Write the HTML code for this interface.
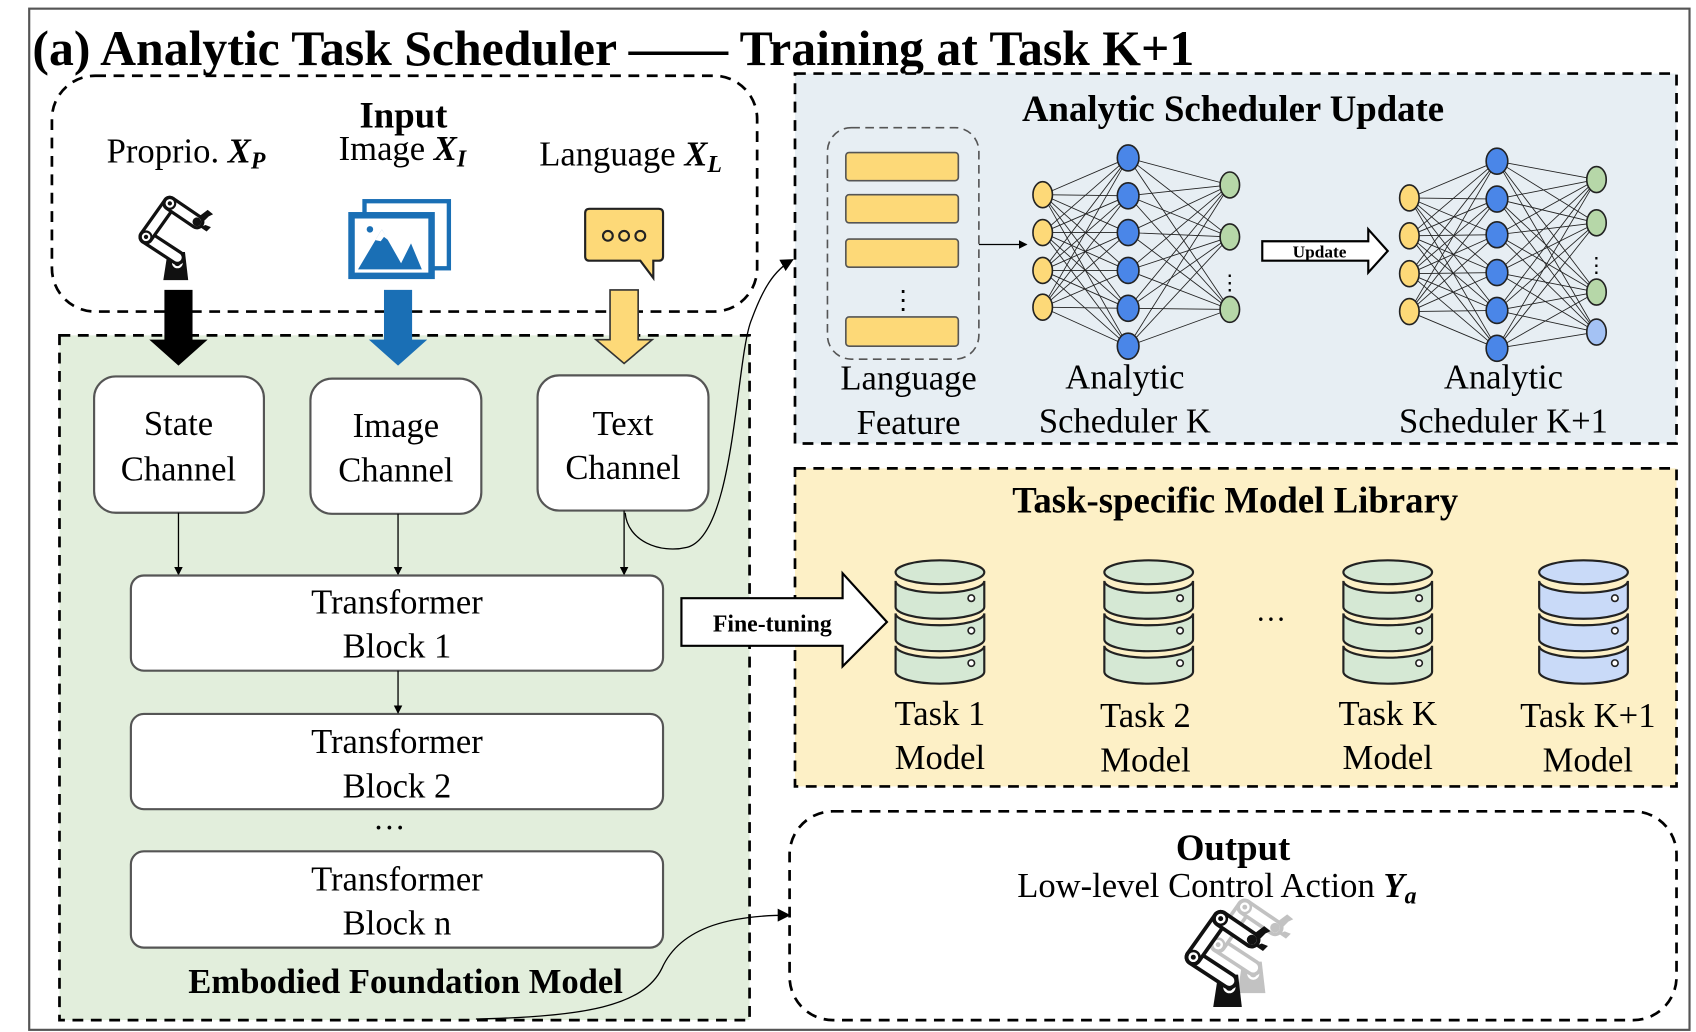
<!DOCTYPE html>
<html><head><meta charset="utf-8"><style>
html,body{margin:0;padding:0;background:#fff;width:1696px;height:1032px;overflow:hidden;}
svg{display:block;}
text{font-family:"Liberation Serif",serif;fill:#000;}
</style></head><body>
<svg width="1696" height="1032" viewBox="0 0 1568 954" preserveAspectRatio="none" xmlns="http://www.w3.org/2000/svg">
<defs>
<marker id="ah" markerWidth="8" markerHeight="8" refX="7" refY="4" orient="auto" markerUnits="userSpaceOnUse"><path d="M0,0 L8,4 L0,8 Z" fill="#000"/></marker>
<marker id="ah2" markerWidth="12" markerHeight="12" refX="11" refY="6" orient="auto" markerUnits="userSpaceOnUse"><path d="M0,0 L12,6 L0,12 Z" fill="#000"/></marker>
<g id="robot">
  <path d="M151,259 L155,233 L171,233 L174,259 Z" fill="#111"/>
  <circle cx="164" cy="243" r="5" fill="#fff"/><circle cx="164" cy="243" r="3" fill="#111"/>
  <line x1="164" y1="238" x2="135" y2="219" stroke="#111" stroke-width="14" stroke-linecap="round"/>
  <line x1="164" y1="238" x2="135" y2="219" stroke="#fff" stroke-width="8" stroke-linecap="round"/>
  <line x1="135" y1="219" x2="157" y2="188" stroke="#111" stroke-width="14" stroke-linecap="round"/>
  <line x1="135" y1="219" x2="157" y2="188" stroke="#fff" stroke-width="8" stroke-linecap="round"/>
  <line x1="157" y1="188" x2="182" y2="205" stroke="#111" stroke-width="14" stroke-linecap="round"/>
  <line x1="157" y1="188" x2="182" y2="205" stroke="#fff" stroke-width="8" stroke-linecap="round"/>
  <circle cx="135" cy="219" r="5" fill="none" stroke="#111" stroke-width="2"/><circle cx="135" cy="219" r="2" fill="#111"/>
  <circle cx="157" cy="188" r="5" fill="none" stroke="#111" stroke-width="2"/><circle cx="157" cy="188" r="2" fill="#111"/>
  <circle cx="182" cy="205" r="4" fill="#111"/>
  <path d="M184,200 L192,194 L197,198 L193,200 L189,204 Z M185,210 L191,214 L195,210 L190,208 Z" fill="#111"/>
</g>
</defs>

<rect x="0" y="0" width="1568" height="954" fill="#fff"/>
<rect x="27" y="8" width="1535" height="944" fill="none" stroke="#555" stroke-width="2"/>

<text x="30" y="60" font-size="46" font-weight="bold">(a) Analytic Task Scheduler —— Training at Task K+1</text>

<rect x="55" y="310" width="638" height="633" fill="#e2eedc" stroke="#000" stroke-width="2.5" stroke-dasharray="10,7"/>
<rect x="735" y="68" width="815" height="342" fill="#e7eef3" stroke="#000" stroke-width="2.5" stroke-dasharray="10,7"/>
<rect x="735" y="433" width="815" height="294" fill="#fdf0c6" stroke="#000" stroke-width="2.5" stroke-dasharray="10,7"/>
<rect x="48" y="70" width="652" height="218" rx="40" fill="none" stroke="#000" stroke-width="2.5" stroke-dasharray="10,7"/>
<rect x="730" y="750" width="820" height="193" rx="40" fill="#fff" stroke="#000" stroke-width="2.5" stroke-dasharray="10,7"/>

<text x="373" y="118" font-size="34" font-weight="bold" text-anchor="middle">Input</text>
<text x="172" y="150" font-size="32" text-anchor="middle">Proprio. <tspan font-weight="bold" font-style="italic">X<tspan font-size="22" dy="6">P</tspan></tspan></text>
<text x="372" y="148" font-size="32" text-anchor="middle">Image <tspan font-weight="bold" font-style="italic">X<tspan font-size="22" dy="6">I</tspan></tspan></text>
<text x="583" y="153" font-size="32" text-anchor="middle">Language <tspan font-weight="bold" font-style="italic">X<tspan font-size="22" dy="6">L</tspan></tspan></text>

<use href="#robot"/>

<rect x="337" y="186" width="78" height="62" fill="#fff" stroke="#1a6fb5" stroke-width="4"/>
<rect x="322" y="196" width="80" height="62" fill="#1a6fb5"/>
<rect x="328" y="202" width="68" height="50" fill="#fff"/>
<path d="M331,249 L353,212 L374,249 Z M368,249 L380,225 L390,249 Z" fill="#1a6fb5"/>
<path d="M347,222 L353,212 L359,222 L355,219 L352,223 Z" fill="#fff"/>
<circle cx="342" cy="212" r="3" fill="#1a6fb5"/>

<path d="M545,193 L609,193 Q613,193 613,197 L613,237 Q613,241 609,241 L604,241 L604,257 L592,241 L545,241 Q541,241 541,237 L541,197 Q541,193 545,193 Z" fill="#fdd978" stroke="#222" stroke-width="2"/>
<circle cx="562" cy="218" r="4.5" fill="none" stroke="#222" stroke-width="2"/>
<circle cx="577" cy="218" r="4.5" fill="none" stroke="#222" stroke-width="2"/>
<circle cx="592" cy="218" r="4.5" fill="none" stroke="#222" stroke-width="2"/>

<path d="M152,268 L178,268 L178,314 L192,314 L165,338 L138,314 L152,314 Z" fill="#000"/>
<path d="M355,268 L381,268 L381,314 L395,314 L368,338 L341,314 L355,314 Z" fill="#1a6fb5"/>
<path d="M564,268 L590,268 L590,314 L603,314 L577,336 L551,314 L564,314 Z" fill="#fdd978" stroke="#333" stroke-width="1.5"/>

<rect x="87" y="348" width="157" height="126" rx="20" fill="#fff" stroke="#555" stroke-width="2"/>
<rect x="287" y="350" width="158" height="125" rx="20" fill="#fff" stroke="#555" stroke-width="2"/>
<rect x="497" y="347" width="158" height="125" rx="20" fill="#fff" stroke="#555" stroke-width="2"/>
<text x="165" y="402" font-size="32" text-anchor="middle">State</text>
<text x="165" y="444" font-size="32" text-anchor="middle">Channel</text>
<text x="366" y="404" font-size="32" text-anchor="middle">Image</text>
<text x="366" y="445" font-size="32" text-anchor="middle">Channel</text>
<text x="576" y="402" font-size="32" text-anchor="middle">Text</text>
<text x="576" y="443" font-size="32" text-anchor="middle">Channel</text>

<line x1="165" y1="474" x2="165" y2="531" stroke="#000" stroke-width="1.2" marker-end="url(#ah)"/>
<line x1="368" y1="475" x2="368" y2="531" stroke="#000" stroke-width="1.2" marker-end="url(#ah)"/>
<line x1="577" y1="472" x2="577" y2="531" stroke="#000" stroke-width="1.2" marker-end="url(#ah)"/>

<rect x="121" y="532" width="492" height="88" rx="12" fill="#fff" stroke="#555" stroke-width="2"/>
<rect x="121" y="660" width="492" height="88" rx="12" fill="#fff" stroke="#555" stroke-width="2"/>
<rect x="121" y="787" width="492" height="89" rx="12" fill="#fff" stroke="#555" stroke-width="2"/>
<text x="367" y="567" font-size="32" text-anchor="middle">Transformer</text>
<text x="367" y="608" font-size="32" text-anchor="middle">Block 1</text>
<text x="367" y="696" font-size="32" text-anchor="middle">Transformer</text>
<text x="367" y="737" font-size="32" text-anchor="middle">Block 2</text>
<text x="367" y="823" font-size="32" text-anchor="middle">Transformer</text>
<text x="367" y="864" font-size="32" text-anchor="middle">Block n</text>
<line x1="368" y1="620" x2="368" y2="659" stroke="#000" stroke-width="1.2" marker-end="url(#ah)"/>
<text x="360" y="775" font-size="30" text-anchor="middle">···</text>
<text x="375" y="918" font-size="32" font-weight="bold" text-anchor="middle">Embodied Foundation Model</text>

<path d="M578,474 C580,500 610,512 635,506 C680,495 680,330 695,295 C705,268 715,250 733,240" fill="none" stroke="#000" stroke-width="1.2" marker-end="url(#ah2)"/>
<path d="M440,942 C540,940 595,930 612,895 C630,855 680,846 730,846" fill="none" stroke="#000" stroke-width="1.2" marker-end="url(#ah2)"/>

<text x="1140" y="112" font-size="34" font-weight="bold" text-anchor="middle">Analytic Scheduler Update</text>
<rect x="765" y="118" width="140" height="214" rx="22" fill="none" stroke="#555" stroke-width="1.5" stroke-dasharray="8,5"/>
<rect x="782" y="141" width="104" height="26" rx="3" fill="#fdd978" stroke="#555" stroke-width="1.5"/>
<rect x="782" y="180" width="104" height="26" rx="3" fill="#fdd978" stroke="#555" stroke-width="1.5"/>
<rect x="782" y="221" width="104" height="26" rx="3" fill="#fdd978" stroke="#555" stroke-width="1.5"/>
<rect x="782" y="293" width="104" height="27" rx="3" fill="#fdd978" stroke="#555" stroke-width="1.5"/>
<text x="835" y="285" font-size="24" text-anchor="middle">⋮</text>
<line x1="905" y1="226" x2="949" y2="226" stroke="#000" stroke-width="1.2" marker-end="url(#ah)"/>
<g id="nets"></g>
<path d="M1167,223 L1265,223 L1265,212 L1283,232 L1265,252 L1265,241 L1167,241 Z" fill="#fff" stroke="#000" stroke-width="2"/>
<text x="1220" y="238" font-size="16" font-weight="bold" text-anchor="middle">Update</text>
<text x="1137" y="268" font-size="20" text-anchor="middle">⋮</text>
<text x="1476" y="252" font-size="20" text-anchor="middle">⋮</text>
<text x="840" y="360" font-size="32" text-anchor="middle">Language</text>
<text x="840" y="401" font-size="32" text-anchor="middle">Feature</text>
<text x="1040" y="359" font-size="32" text-anchor="middle">Analytic</text>
<text x="1040" y="400" font-size="32" text-anchor="middle">Scheduler K</text>
<text x="1390" y="359" font-size="32" text-anchor="middle">Analytic</text>
<text x="1390" y="400" font-size="32" text-anchor="middle">Scheduler K+1</text>

<text x="1142" y="474" font-size="34" font-weight="bold" text-anchor="middle">Task-specific Model Library</text>
<path d="M630,553 L779,553 L779,530 L820,575 L779,616 L779,597 L630,597 Z" fill="#fff" stroke="#000" stroke-width="2"/>
<text x="714" y="584" font-size="22" font-weight="bold" text-anchor="middle">Fine-tuning</text>
<g id="dbs"></g>
<text x="1175" y="582" font-size="28" text-anchor="middle">···</text>
<text x="869" y="670" font-size="32" text-anchor="middle">Task 1</text>
<text x="869" y="711" font-size="32" text-anchor="middle">Model</text>
<text x="1059" y="672" font-size="32" text-anchor="middle">Task 2</text>
<text x="1059" y="713" font-size="32" text-anchor="middle">Model</text>
<text x="1283" y="670" font-size="32" text-anchor="middle">Task K</text>
<text x="1283" y="711" font-size="32" text-anchor="middle">Model</text>
<text x="1468" y="672" font-size="32" text-anchor="middle">Task K+1</text>
<text x="1468" y="713" font-size="32" text-anchor="middle">Model</text>

<text x="1140" y="795" font-size="34" font-weight="bold" text-anchor="middle">Output</text>
<text x="1125" y="829" font-size="32" text-anchor="middle">Low-level Control Action <tspan font-weight="bold" font-style="italic">Y<tspan font-size="22" dy="6">a</tspan></tspan></text>
<use href="#robot" transform="translate(975,628) scale(1.12)" opacity="0.25"/>
<use href="#robot" transform="translate(948,633) scale(1.15)"/>
</svg>
<script>
(function(){
var NS="http://www.w3.org/2000/svg";
function el(p,t,a){var e=document.createElementNS(NS,t);for(var k in a)e.setAttribute(k,a[k]);p.appendChild(e);return e;}
var nets=document.getElementById('nets');
function net(ix,iy,hx,hy,ox,oy,ocol){
  iy.forEach(function(a){hy.forEach(function(b){el(nets,'line',{x1:ix,y1:a,x2:hx,y2:b,stroke:'#222','stroke-width':0.8});});});
  hy.forEach(function(a){oy.forEach(function(b){el(nets,'line',{x1:hx,y1:a,x2:ox,y2:b,stroke:'#222','stroke-width':0.8});});});
  iy.forEach(function(y){el(nets,'ellipse',{cx:ix,cy:y,rx:9,ry:12,fill:'#fdd978',stroke:'#222','stroke-width':1.5});});
  hy.forEach(function(y){el(nets,'ellipse',{cx:hx,cy:y,rx:10,ry:12,fill:'#4a86e8',stroke:'#222','stroke-width':1.5});});
  oy.forEach(function(y,i){el(nets,'ellipse',{cx:ox,cy:y,rx:9,ry:12,fill:ocol[i],stroke:'#222','stroke-width':1.5});});
}
var g='#b6d7a8';
net(964,[180,215,250,284],1043,[146,181,215,250,285,320],1137,[171,219,286],[g,g,g]);
net(1303,[183,218,253,288],1384,[149,184,217,252,287,322],1476,[166,206,270,307],[g,g,g,'#a4c2f4']);
var dbs=document.getElementById('dbs');
function db(cx,top,fill){
  var w=41;
  [[20,44],[50,74],[80,104]].forEach(function(s){
    var a=top+s[0],b=top+s[1];
    el(dbs,'path',{d:'M'+(cx-w)+','+a+' L'+(cx-w)+','+b+' A'+w+',11 0 0 0 '+(cx+w)+','+b+' L'+(cx+w)+','+a+' A'+w+',11 0 0 1 '+(cx-w)+','+a+' Z',fill:fill,stroke:'#222','stroke-width':2});
    el(dbs,'circle',{cx:cx+29,cy:(a+b)/2+4,r:3,fill:'#fff',stroke:'#222','stroke-width':1.5});
  });
  el(dbs,'ellipse',{cx:cx,cy:top+12,rx:w,ry:11,fill:fill,stroke:'#222','stroke-width':2});
}
db(869,517,'#d5e8d4');db(1062,517,'#d5e8d4');db(1283,517,'#d5e8d4');db(1464,517,'#c9daf8');
})();
</script>
</body></html>
